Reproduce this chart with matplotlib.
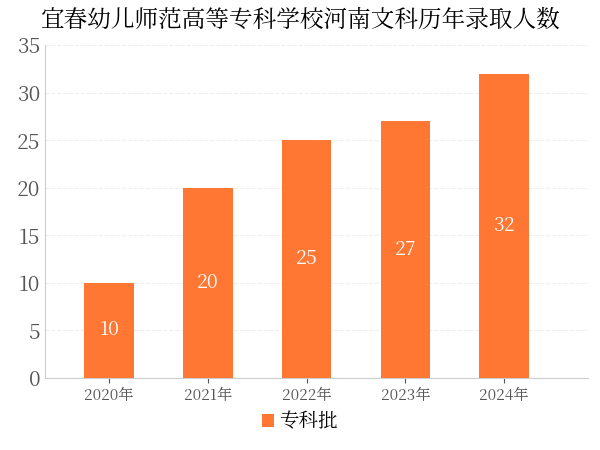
import matplotlib.pyplot as plt
from matplotlib import font_manager as fm

# pick up a CJK font file directly, the family name lookup did not work
cjk = [f for f in fm.findSystemFonts() if 'CJK' in f or 'cjk' in f.lower()]
for f in cjk:
    fm.fontManager.addfont(f)
names = [fm.FontProperties(fname=f).get_name() for f in cjk]
sc = [n for n in names if 'SC' in n] or names
plt.rcParams['font.family'] = [sc[0] if sc else 'DejaVu Sans', 'DejaVu Sans']

years = ['2020年', '2021年', '2022年', '2023年', '2024年']
counts = [10, 20, 25, 27, 32]

fig = plt.figure(figsize=(6, 4.5), dpi=100)
ax = fig.add_axes([0.075, 0.16, 0.905, 0.74])
bars = ax.bar(years, counts, width=0.5, color='#ff7733', label='专科批')
for b, v in zip(bars, counts):
    ax.text(b.get_x() + b.get_width() / 2, v / 2, str(v), ha='center', va='center',
            color='white', fontsize=14)

ax.set_xlim(-0.65, 4.85)
ax.set_ylim(0, 35)
ax.set_yticks(range(0, 36, 5))
ax.tick_params(axis='y', labelsize=15, colors='#555555', length=0)
ax.tick_params(axis='x', labelsize=11, colors='#555555')
ax.grid(axis='y', color='#eeeeee', linestyle='--', linewidth=0.8)
ax.set_axisbelow(True)
for s in ['top', 'right']:
    ax.spines[s].set_visible(False)
ax.spines['left'].set_color('#cccccc')
ax.spines['bottom'].set_color('#cccccc')

fig.suptitle('宜春幼儿师范高等专科学校河南文科历年录取人数', fontsize=17, y=0.985)
fig.legend(loc='lower center', bbox_to_anchor=(0.5, 0.0), frameon=False, fontsize=14,
           handlelength=0.6, handleheight=0.6, handletextpad=0.3)

fig.savefig('out.png')
